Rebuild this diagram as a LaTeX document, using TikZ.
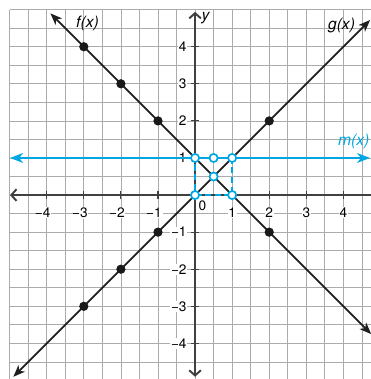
\documentclass[tikz,border=0pt]{standalone}
\usepackage{fontspec}
\setmainfont{TeX Gyre Heros}
\usepackage{xcolor}
\usetikzlibrary{arrows.meta}
\definecolor{mblue}{RGB}{0,166,228}

\begin{document}
\begin{tikzpicture}[
  font=\fontsize{10.5}{12}\selectfont,
  gridline/.style={draw=black!33, line width=0.6pt},
  axis/.style={draw=black!75, line width=1.5pt, {Straight Barb[length=4pt,width=9pt]}-{Straight Barb[length=4pt,width=9pt]}},
  fline/.style={draw=black!88, line width=1.4pt, {Stealth[length=9pt,width=7pt,inset=2.5pt]}-{Stealth[length=9pt,width=7pt,inset=2.5pt]}},
  mline/.style={draw=mblue, line width=1.5pt, {Stealth[length=10pt,width=7.5pt,inset=3pt]}-{Stealth[length=10pt,width=7.5pt,inset=3pt]}},
  dot/.style={circle, fill=black!90, inner sep=0pt, minimum size=2.5mm},
  hole/.style={circle, draw=mblue, fill=white, line width=1.3pt, inner sep=0pt, minimum size=2.2mm},
  num/.style={fill=white, inner sep=0.6pt},
  fname/.style={font=\fontsize{12}{14}\selectfont\itshape, inner sep=1pt},
]
\useasboundingbox (-5.26,-4.96) rectangle (4.74,5.26);
\clip (-5.26,-4.96) rectangle (4.74,5.26);

% grid
\foreach \k in {-5,-4.5,...,5} {
  \draw[gridline] (\k,-5) -- (\k,5);
  \draw[gridline] (-5,\k) -- (5,\k);
}

% axes
\coordinate (xl) at (-4.99,0);
\coordinate (xr) at (4.95,0);
\coordinate (yb) at (0,-4.9);
\coordinate (yt) at (0,4.94);
\draw[axis] (xl) -- (xr);
\draw[axis] (yb) -- (yt);
\foreach \k in {-4,...,4} {
  \draw[black!75, line width=0.9pt] (\k,-0.11) -- (\k,0.11);
  \draw[black!75, line width=0.9pt] (-0.11,\k) -- (0.11,\k);
}

% tick labels
\foreach \k in {1,...,4} {
  \node[num] (xp\k) at (\k,-0.48) {\k};
  \node[num] (xn\k) at (-\k,-0.48) {\llap{−}\k};
  \node[num, anchor=east] (yp\k) at (-0.2,\k) {\k};
  \node[num, anchor=east] (yn\k) at (-0.2,-\k) {−\k};
}
\node[num] (x0) at (0.2,-0.3) {0};

% dashed box
\coordinate (b00) at (0,0);
\coordinate (b10) at (1,0);
\coordinate (b11) at (1,1);
\coordinate (b01) at (0,1);
\draw[mblue, line width=1.2pt, dash pattern=on 5pt off 2.5pt] (b00) -- (b10) -- (b11) -- (b01) -- cycle;

% lines
\coordinate (f1) at (-3.9,4.9);
\coordinate (f2) at (4.75,-3.75);
\coordinate (g1) at (-4.9,-4.9);
\coordinate (g2) at (4.72,4.72);
\coordinate (m1) at (-4.99,1);
\coordinate (m2) at (4.72,1);
\draw[fline] (f1) -- (f2);
\draw[fline] (g1) -- (g2);
\draw[mline] (m1) -- (m2);

% points
\foreach \a/\b [count=\i] in {-3/4,-2/3,-1/2,2/-1} \node[dot] (fp\i) at (\a,\b) {};
\foreach \a/\b [count=\i] in {-3/-3,-2/-2,-1/-1,2/2} \node[dot] (gp\i) at (\a,\b) {};
\foreach \a/\b [count=\i] in {0/0,1/0,0/1,1/1,0.5/1,0.5/0.5} \node[hole] (h\i) at (\a,\b) {};

% names
\node[fname] (fx) at (-2.9,4.62) {f(x)};
\node[fname] (gx) at (3.95,4.56) {g(x)};
\node[fname, text=mblue] (mx) at (4.28,1.44) {m(x)};
\node[fname] (ylab) at (0.28,4.78) {y};
\end{tikzpicture}
\end{document}
